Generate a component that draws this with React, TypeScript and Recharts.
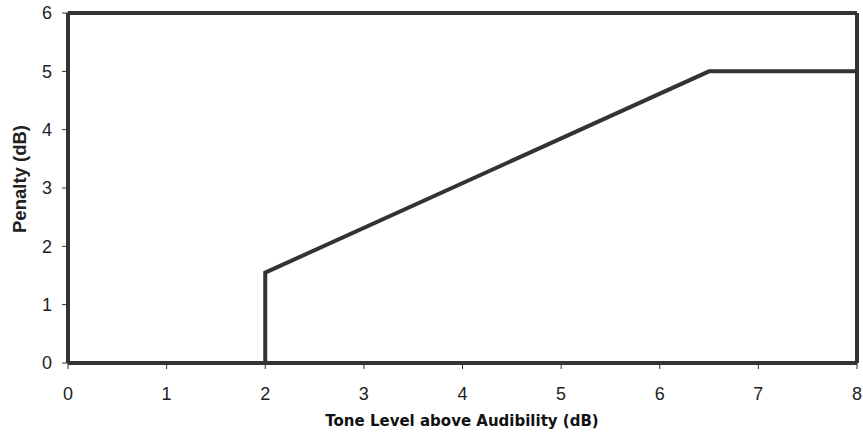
import { LineChart, Line, XAxis, YAxis, ReferenceLine } from "recharts";

const toneLevel = [2, 2, 6.5, 8];
const penalty = [0, 1.55, 5, 5];
const xTicks = [0, 1, 2, 3, 4, 5, 6, 7, 8];
const yTicks = [0, 1, 2, 3, 4, 5, 6];

const data = toneLevel.map((x, i) => ({ x, y: penalty[i] }));

const INK = "#333333";
const tickFont = { fontSize: 18, fill: "#222", fontFamily: "Liberation Sans, Arial, sans-serif" };

export default function App() {
  return (
    <div style={{ position: "absolute", left: 0, top: 0, width: 863, height: 439, background: "#fff" }}>
      <LineChart width={863} height={439} data={data} margin={{ top: 13, right: 6, left: 0, bottom: 0 }}>
        <XAxis
          type="number"
          dataKey="x"
          domain={[0, 8]}
          ticks={xTicks}
          interval={0}
          height={76}
          tick={tickFont}
          axisLine={{ stroke: INK, strokeWidth: 4 }}
          tickLine={{ stroke: INK, strokeWidth: 1 }}
          tickSize={6}
          tickMargin={18}
        />
        <YAxis
          type="number"
          domain={[0, 6]}
          ticks={yTicks}
          interval={0}
          width={68}
          tick={tickFont}
          axisLine={{ stroke: INK, strokeWidth: 4 }}
          tickLine={{ stroke: INK, strokeWidth: 1 }}
          tickSize={6}
          tickMargin={10}
        />
        <ReferenceLine y={6} stroke={INK} strokeWidth={4} />
        <ReferenceLine x={8} stroke={INK} strokeWidth={4} />
        <Line
          type="linear"
          dataKey="y"
          stroke={INK}
          strokeWidth={4}
          dot={false}
          isAnimationActive={false}
        />
        <text
          x={19}
          y={179}
          transform="rotate(-90 19 179)"
          textAnchor="middle"
          dominantBaseline="central"
          style={{ fontSize: 18.5, fontWeight: "bold", fill: "#222", fontFamily: "Liberation Sans, Arial, sans-serif" }}
        >
          Penalty (dB)
        </text>
        <text
          x={462}
          y={426}
          textAnchor="middle"
          style={{ fontSize: 15, fontWeight: "bold", fill: "#111", fontFamily: "DejaVu Sans, sans-serif" }}
        >
          Tone Level above Audibility (dB)
        </text>
      </LineChart>
    </div>
  );
}
